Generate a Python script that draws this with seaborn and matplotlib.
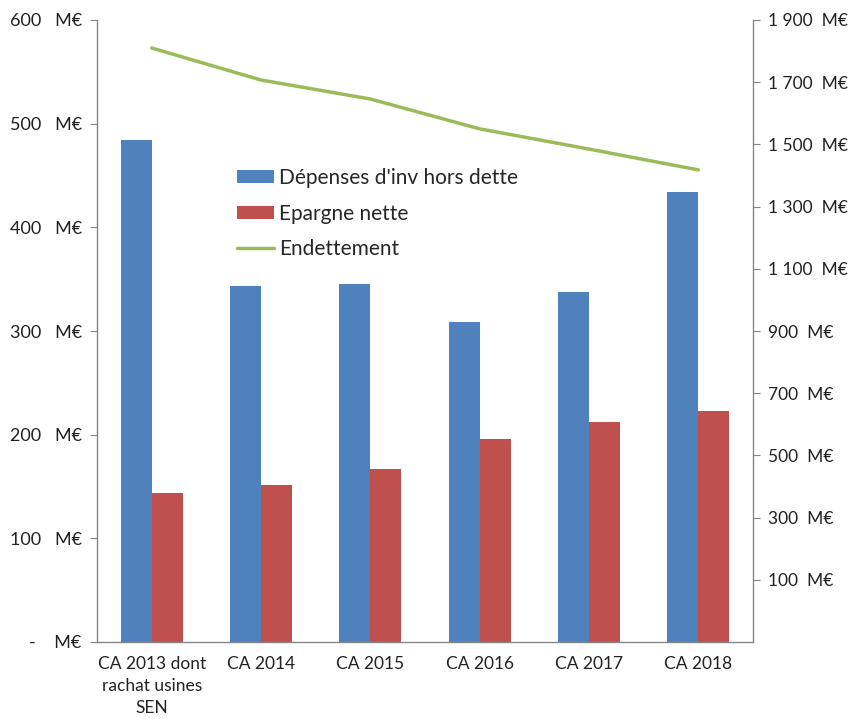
import matplotlib
matplotlib.use("Agg")
import matplotlib.pyplot as plt
from matplotlib.ticker import FixedLocator, FuncFormatter
import pandas as pd
import seaborn as sns

categories = ["CA 2013 dont\nrachat usines\nSEN", "CA 2014", "CA 2015", "CA 2016", "CA 2017", "CA 2018"]
depenses = [484, 343, 345, 309, 338, 434]
epargne = [144, 151, 167, 196, 212, 223]
endettement = [1810, 1707, 1646, 1550, 1485, 1418]

BLUE = "#4F81BD"
RED = "#C0504D"
GREEN = "#9BBB59"
GREY = "#868686"

sns.set_style("white")
plt.rcParams['font.family'] = ['Lato', 'DejaVu Sans']

df = pd.DataFrame({"cat": categories * 2,
                   "val": depenses + epargne,
                   "serie": ["Dépenses d'inv hors dette"] * 6 + ["Epargne nette"] * 6})

fig = plt.figure(figsize=(8.55, 7.19), dpi=100)
ax = fig.add_axes([97 / 855, 1 - 642 / 719, 656 / 855, 622 / 719])

sns.barplot(data=df, x="cat", y="val", hue="serie", palette=[BLUE, RED],
            width=0.57, gap=0, saturation=1, linewidth=0, edgecolor="none",
            ax=ax, legend=True)
ax.set_xlim(-0.5, len(categories) - 0.5)
ax.set_ylim(0, 600)
ax.set_yticks(range(0, 601, 100))
ax.yaxis.set_major_formatter(FuncFormatter(lambda v, p: "-    M€" if v == 0 else f"{int(v)}   M€"))
ax.set_xlabel("")
ax.set_ylabel("")

# category boundaries as ticks, labels centered without tick marks
ax.xaxis.set_minor_locator(FixedLocator([i - 0.5 for i in range(len(categories) + 1)]))
ax.tick_params(axis="x", which="major", length=0, labelsize=12.5, pad=10, colors="#222222")
ax.tick_params(axis="x", which="minor", length=5, color=GREY, direction="out")
ax.tick_params(axis="y", length=5, color=GREY, direction="out", labelsize=13, pad=6,
               labelcolor="#222222", left=True)
for t in ax.get_xticklabels():
    t.set_linespacing(1.45)

ax2 = ax.twinx()
sns.lineplot(x=list(range(len(categories))), y=endettement, color=GREEN, linewidth=2.5,
             ax=ax2, label="Endettement", legend=False)
ax2.set_ylim(-100, 1900)
ax2.set_yticks(range(100, 1901, 200))
ax2.yaxis.set_major_formatter(FuncFormatter(lambda v, p: f"{int(v):,}".replace(",", " ") + "  M€"))
ax2.tick_params(axis="y", length=5, color=GREY, direction="out", labelsize=12.5, pad=6,
                labelcolor="#222222", right=True)

for a in (ax, ax2):
    a.spines["top"].set_visible(False)
    for s in ("left", "right", "bottom"):
        a.spines[s].set_color(GREY)
        a.spines[s].set_linewidth(1)
ax.spines["right"].set_visible(False)
ax2.spines["left"].set_visible(False)
ax2.spines["bottom"].set_visible(False)

h1, l1 = ax.get_legend_handles_labels()
h2, l2 = ax2.get_legend_handles_labels()
ax.get_legend().remove()
ax2.legend(h1 + h2, l1 + l2, loc="upper left", bbox_to_anchor=(0.185, 0.792), frameon=False,
           fontsize=15, handlelength=1.75, handleheight=0.6, handletextpad=0.25, labelspacing=0.75)

fig.savefig("out.png", dpi=100)
